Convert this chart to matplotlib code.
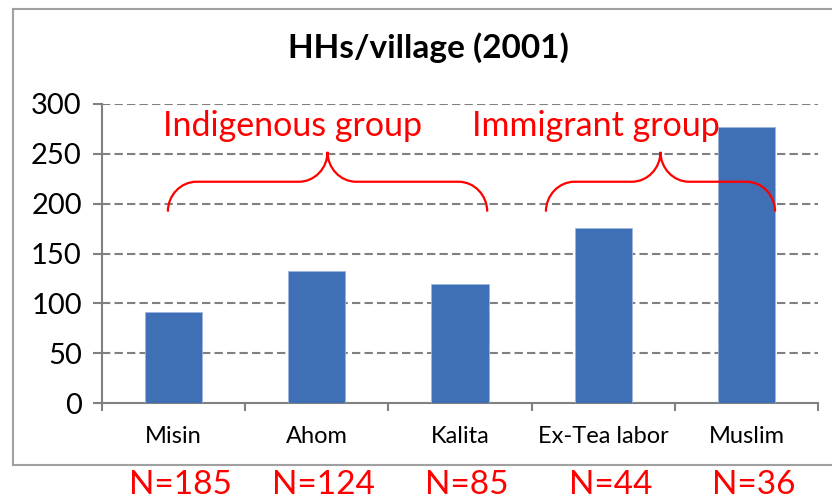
import matplotlib.pyplot as plt
from matplotlib.path import Path
from matplotlib.patches import PathPatch
from matplotlib.lines import Line2D
import matplotlib.transforms as mtransforms

plt.rcParams['font.family'] = ['Lato', 'DejaVu Sans']

categories = ['Misin', 'Ahom', 'Kalita', 'Ex-Tea labor', 'Muslim']
hhs_per_village = [91, 132, 119, 176, 277]
n_labels = ['N=185', 'N=124', 'N=85', 'N=44', 'N=36']
groups = ['Indigenous group', 'Immigrant group']
y_ticks = [0, 50, 100, 150, 200, 250, 300]

RED = '#ff0000'
GRAY = '#808080'


def brace(ax, x0, x1, y_end, y_mid, y_tip, r=0.2, k=0.55):
    # фигурная скобка из кривых Безье, в координатах данных
    xm = (x0 + x1) / 2
    dy1 = y_mid - y_end
    dy2 = y_tip - y_mid
    verts = [
        (x0, y_end),
        (x0, y_end + k * dy1), (x0 + r - k * r, y_mid), (x0 + r, y_mid),
        (xm - r, y_mid),
        (xm - r + k * r, y_mid), (xm, y_tip - k * dy2), (xm, y_tip),
        (xm, y_tip - k * dy2), (xm + r - k * r, y_mid), (xm + r, y_mid),
        (x1 - r, y_mid),
        (x1 - r + k * r, y_mid), (x1, y_end + k * dy1), (x1, y_end),
    ]
    codes = [Path.MOVETO,
             Path.CURVE4, Path.CURVE4, Path.CURVE4,
             Path.LINETO,
             Path.CURVE4, Path.CURVE4, Path.CURVE4,
             Path.CURVE4, Path.CURVE4, Path.CURVE4,
             Path.LINETO,
             Path.CURVE4, Path.CURVE4, Path.CURVE4]
    ax.add_patch(PathPatch(Path(verts, codes), fill=False, edgecolor=RED,
                           linewidth=1.6, clip_on=False, zorder=4))


fig = plt.figure(figsize=(8.32, 5), dpi=100)
ax = fig.add_axes([102 / 832, 97 / 500, 716 / 832, 299 / 500])

x = range(len(categories))
ax.bar(x, hhs_per_village, width=0.4, color='#3f6fb5', edgecolor='#9db5de',
       linewidth=0.6, zorder=3)

ax.set_xlim(-0.5, len(categories) - 0.5)
ax.set_ylim(0, 300)
ax.set_yticks(y_ticks)
ax.set_yticklabels([str(v) for v in y_ticks], fontsize=21)
ax.tick_params(axis='y', direction='out', length=6.5, width=1.5, color=GRAY, pad=8)

# деления оси X между категориями
ax.set_xticks([i - 0.5 for i in range(len(categories) + 1)])
ax.set_xticklabels([])
ax.tick_params(axis='x', direction='out', length=5.5, width=1.5, color=GRAY)
for i, name in enumerate(categories):
    ax.text(i, -34, name, ha='center', va='center', fontsize=17)

for v in y_ticks[1:]:
    ax.axhline(v, color=GRAY, linestyle=(0, (4, 2)), linewidth=1.5, zorder=1)

for s in ['top', 'right']:
    ax.spines[s].set_visible(False)
for s in ['left', 'bottom']:
    ax.spines[s].set_color(GRAY)
    ax.spines[s].set_linewidth(1.5)

# скобки и подписи групп
brace(ax, -0.04, 2.19, 192, 222, 252)
brace(ax, 2.6, 4.2, 192, 222, 252)
ax.text(0.83, 278, groups[0], ha='center', va='center', color=RED, fontsize=24.5, zorder=5)
ax.text(2.95, 278, groups[1], ha='center', va='center', color=RED, fontsize=24.5, zorder=5)

fig.text(428 / 832, 1 - 48 / 500, 'HHs/village (2001)', ha='center', va='center',
         fontsize=24, fontweight='bold')

# подписи N под рамкой
trans = mtransforms.blended_transform_factory(ax.transData, fig.transFigure)
for i, lab in enumerate(n_labels):
    ax.text(i + 0.05, 1 - 485 / 500, lab, ha='center', va='center', color=RED,
            fontsize=24, transform=trans, clip_on=False)

# рамка области диаграммы
fy0, fy1, fx0 = 1 - 465 / 500, 1 - 9 / 500, 13 / 832
fig.add_artist(Line2D([fx0, fx0], [fy0, fy1], color='#a0a0a0', linewidth=1.5))
fig.add_artist(Line2D([fx0, 1], [fy1, fy1], color='#a0a0a0', linewidth=1.5))
fig.add_artist(Line2D([fx0, 1], [fy0, fy0], color='#a0a0a0', linewidth=1.5))

fig.savefig('out.png', dpi=100)
